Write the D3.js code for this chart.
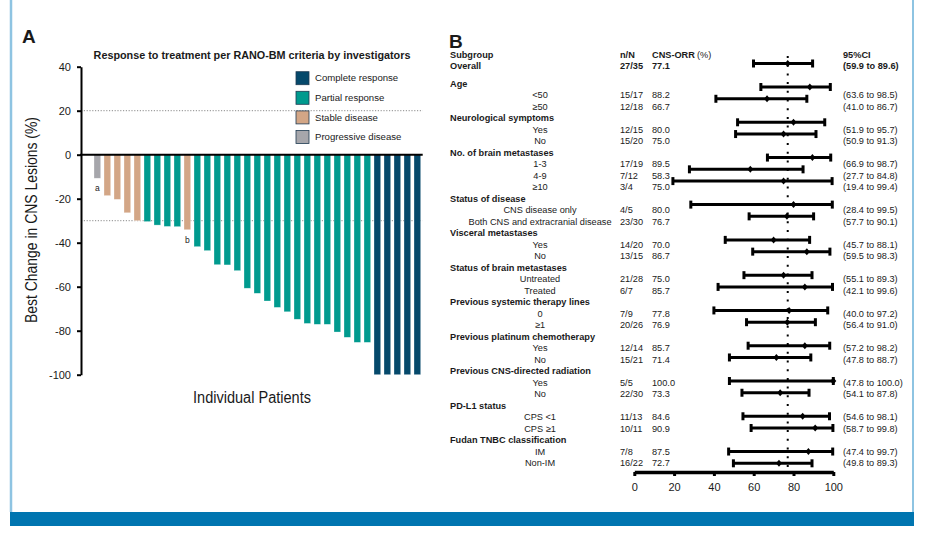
<!DOCTYPE html>
<html>
<head>
<meta charset="utf-8">
<script src="https://cdn.jsdelivr.net/npm/d3@7"></script>
<style>
  body { margin: 0; background: #fff; }
  text { font-family: "Liberation Sans", Arial, sans-serif; fill: #1a1a1a; }
</style>
</head>
<body>
<script>
// ---- panel A data: best change per patient (%) and response type
var patientChange = [-10.7, -18.6, -20.3, -26.4, -30.0, -30.4, -32.0, -32.6, -32.7, -34.1,
  -41.8, -43.6, -50.0, -50.1, -52.7, -60.7, -63.0, -66.5, -69.4, -71.4,
  -74.8, -76.7, -77.1, -77.1, -80.6, -83.0, -85.3, -85.3,
  -100, -100, -100, -100, -100];
var patientResponse = ["PD", "SD", "SD", "SD", "SD", "PR", "PR", "PR", "PR", "SD",
  "PR", "PR", "PR", "PR", "PR", "PR", "PR", "PR", "PR", "PR",
  "PR", "PR", "PR", "PR", "PR", "PR", "PR", "PR",
  "CR", "CR", "CR", "CR", "CR"];
var patientNotes = {0: "a", 9: "b"};
var responseKeys = ["CR", "PR", "SD", "PD"];
var responseNames = ["Complete response", "Partial response", "Stable disease", "Progressive disease"];
var responseColors = ["#05496b", "#009a8e", "#d3a686", "#a6a6ab"];
var yTicksA = [40, 20, 0, -20, -40, -60, -80, -100];

// ---- panel B data: subgroups
var overallN = "27/35", overallOrr = 77.1, overallLow = 59.9, overallHigh = 89.6;
var fpLabels = ["Age", "<50", "\u226550", "Neurological symptoms", "Yes", "No",
  "No. of brain metastases", "1-3", "4-9", "\u226510",
  "Status of disease", "CNS disease only", "Both CNS and extracranial disease",
  "Visceral metastases", "Yes", "No",
  "Status of brain metastases", "Untreated", "Treated",
  "Previous systemic therapy lines", "0", "\u22651",
  "Previous platinum chemotherapy", "Yes", "No",
  "Previous CNS-directed radiation", "Yes", "No",
  "PD-L1 status", "CPS <1", "CPS \u22651",
  "Fudan TNBC classification", "IM", "Non-IM"];
var fpN = [null, "15/17", "12/18", null, "12/15", "15/20", null, "17/19", "7/12", "3/4",
  null, "4/5", "23/30", null, "14/20", "13/15", null, "21/28", "6/7",
  null, "7/9", "20/26", null, "12/14", "15/21", null, "5/5", "22/30",
  null, "11/13", "10/11", null, "7/8", "16/22"];
var fpOrr = [null, 88.2, 66.7, null, 80.0, 75.0, null, 89.5, 58.3, 75.0,
  null, 80.0, 76.7, null, 70.0, 86.7, null, 75.0, 85.7,
  null, 77.8, 76.9, null, 85.7, 71.4, null, 100.0, 73.3,
  null, 84.6, 90.9, null, 87.5, 72.7];
var fpLow = [null, 63.6, 41.0, null, 51.9, 50.9, null, 66.9, 27.7, 19.4,
  null, 28.4, 57.7, null, 45.7, 59.5, null, 55.1, 42.1,
  null, 40.0, 56.4, null, 57.2, 47.8, null, 47.8, 54.1,
  null, 54.6, 58.7, null, 47.4, 49.8];
var fpHigh = [null, 98.5, 86.7, null, 95.7, 91.3, null, 98.7, 84.8, 99.4,
  null, 99.5, 90.1, null, 88.1, 98.3, null, 89.3, 99.6,
  null, 97.2, 91.0, null, 98.2, 88.7, null, 100.0, 87.8,
  null, 98.1, 99.8, null, 99.7, 89.3];
var xTicksB = [0, 20, 40, 60, 80, 100];

var svg = d3.select("body").append("svg").attr("width", 931).attr("height", 533);

// frame
svg.append("line").attr("x1", 11).attr("x2", 11).attr("y1", 0).attr("y2", 512)
  .attr("stroke", "#8ec4e2").attr("stroke-width", 2.5);
svg.append("line").attr("x1", 913).attr("x2", 913).attr("y1", 0).attr("y2", 512)
  .attr("stroke", "#8ec4e2").attr("stroke-width", 2);
svg.append("rect").attr("x", 10).attr("y", 512).attr("width", 904).attr("height", 14)
  .attr("fill", "#0075b0");

// =========== panel A ===========
var yA = d3.scaleLinear().domain([-100, 40]).range([374.7, 66.7]);
var xA = d3.scaleBand().domain(d3.range(patientChange.length)).range([94, 420.7]).paddingInner(0.33);
var colorA = d3.scaleOrdinal().domain(responseKeys).range(responseColors);

svg.append("text").attr("x", 22).attr("y", 43).attr("font-size", 19).attr("font-weight", "bold").text("A");
svg.append("text").attr("x", 252).attr("y", 58.8).attr("text-anchor", "middle")
  .attr("font-size", 10.8).attr("font-weight", "bold")
  .text("Response to treatment per RANO-BM criteria by investigators");

// reference lines
[20, -30].forEach(function(v) {
  svg.append("line").attr("x1", 81).attr("x2", 422.7).attr("y1", yA(v)).attr("y2", yA(v))
    .attr("stroke", "#8a8a8a").attr("stroke-width", 1).attr("stroke-dasharray", "1.2,1.6");
});

// bars
svg.append("g").selectAll("rect")
  .data(patientChange)
  .enter()
  .append("rect")
  .attr("x", function(d, i) { return xA(i); })
  .attr("y", yA(0))
  .attr("width", xA.bandwidth())
  .attr("height", function(d) { return yA(d) - yA(0); })
  .attr("fill", function(d, i) { return colorA(patientResponse[i]); })
  .attr("stroke", "#ffffff").attr("stroke-opacity", 0.5).attr("stroke-width", 0.6);

// notes a / b
Object.keys(patientNotes).forEach(function(k) {
  var i = +k;
  svg.append("text").attr("x", xA(i) + xA.bandwidth() / 2).attr("y", yA(patientChange[i]) + 13)
    .attr("text-anchor", "middle").attr("font-size", 8.5).attr("fill", "#333").text(patientNotes[k]);
});

// y axis
var axA = svg.append("g").attr("transform", "translate(81,0)")
  .call(d3.axisLeft(yA).tickValues(yTicksA).tickSize(4).tickSizeOuter(0).tickPadding(6)
    .tickFormat(function(d) { return String(d).replace("\u2212", "-"); }));
axA.select(".domain").attr("stroke", "#000").attr("stroke-width", 2);
axA.selectAll(".tick line").attr("stroke", "#000").attr("stroke-width", 2);
axA.selectAll(".tick text").attr("font-size", 11).attr("font-family", "Liberation Sans, Arial, sans-serif").attr("fill", "#1a1a1a");

// zero line
svg.append("line").attr("x1", 80).attr("x2", 422.7).attr("y1", yA(0)).attr("y2", yA(0))
  .attr("stroke", "#000").attr("stroke-width", 2);

// axis titles (condensed look)
svg.append("text")
  .attr("transform", "translate(37,220) rotate(-90)")
  .attr("text-anchor", "middle").attr("font-size", 16)
  .attr("textLength", 206).attr("lengthAdjust", "spacingAndGlyphs")
  .text("Best Change in CNS Lesions (%)");
svg.append("text").attr("x", 252).attr("y", 403)
  .attr("text-anchor", "middle").attr("font-size", 16)
  .attr("textLength", 118).attr("lengthAdjust", "spacingAndGlyphs")
  .text("Individual Patients");

// legend
var legA = svg.append("g").selectAll("g")
  .data(responseNames)
  .enter()
  .append("g")
  .attr("transform", function(d, i) { return "translate(296," + (71.7 + i * 19.6) + ")"; });
legA.append("rect").attr("width", 13).attr("height", 13)
  .attr("fill", function(d, i) { return responseColors[i]; })
  .attr("stroke", "#1f3b52").attr("stroke-width", 0.8);
legA.append("text").attr("x", 19).attr("y", 9.8).attr("font-size", 9.6).attr("fill", "#333")
  .text(function(d) { return d; });

// =========== panel B ===========
var xB = d3.scaleLinear().domain([0, 100]).range([634.3, 833.3]);
var yText = d3.scaleLinear().domain([0, 33]).range([83.7, 462.7]);
var yBar = d3.scaleLinear().domain([0, 34]).range([63.5, 463.3]);
var fs = 9.2, base = 3.3;

svg.append("text").attr("x", 449).attr("y", 48).attr("font-size", 19).attr("font-weight", "bold").text("B");

function headerText(x, y, t, bold, color) {
  svg.append("text").attr("x", x).attr("y", y + base).attr("font-size", fs)
    .attr("font-weight", bold ? "bold" : "normal").attr("fill", color || "#1a1a1a").text(t);
}
headerText(450, 54.7, "Subgroup", true);
headerText(620, 54.7, "n/N", true);
headerText(652, 54.7, "CNS-ORR", true);
headerText(697, 54.7, "(%)", false, "#666");
headerText(843, 54.7, "95%CI", true);
headerText(450, 65.3, "Overall", true);
headerText(620, 65.3, overallN, true);
headerText(652, 65.3, overallOrr.toFixed(1), true);
headerText(843, 65.3, "(" + overallLow.toFixed(1) + " to " + overallHigh.toFixed(1) + ")", true);

// row texts
var rows = svg.append("g").selectAll("g")
  .data(fpLabels)
  .enter()
  .append("g")
  .attr("transform", function(d, i) { return "translate(0," + (yText(i) + base) + ")"; });
rows.append("text")
  .attr("x", function(d, i) { return fpN[i] ? 540 : 450; })
  .attr("text-anchor", function(d, i) { return fpN[i] ? "middle" : "start"; })
  .attr("font-size", fs)
  .attr("font-weight", function(d, i) { return fpN[i] ? "normal" : "bold"; })
  .text(function(d) { return d; });
rows.append("text").attr("x", 620).attr("font-size", fs)
  .text(function(d, i) { return fpN[i] || ""; });
rows.append("text").attr("x", 652).attr("font-size", fs)
  .text(function(d, i) { return fpOrr[i] == null ? "" : fpOrr[i].toFixed(1); });
rows.append("text").attr("x", 843).attr("font-size", fs)
  .text(function(d, i) { return fpOrr[i] == null ? "" : "(" + fpLow[i].toFixed(1) + " to " + fpHigh[i].toFixed(1) + ")"; });

// reference dotted line at overall ORR
svg.append("line").attr("x1", xB(overallOrr)).attr("x2", xB(overallOrr)).attr("y1", 56).attr("y2", 467)
  .attr("stroke", "#000").attr("stroke-width", 2).attr("stroke-dasharray", "2,6.7");

// CI bars
var ciData = [{orr: overallOrr, lo: overallLow, hi: overallHigh, k: 0}];
fpOrr.forEach(function(v, i) {
  if (v != null) ciData.push({orr: v, lo: fpLow[i], hi: fpHigh[i], k: i + 1});
});
var ci = svg.append("g").selectAll("g").data(ciData).enter().append("g");
ci.append("line")
  .attr("x1", function(d) { return xB(d.lo); })
  .attr("x2", function(d) { return xB(d.hi); })
  .attr("y1", function(d) { return yBar(d.k); })
  .attr("y2", function(d) { return yBar(d.k); })
  .attr("stroke", "#000").attr("stroke-width", 3);
["lo", "hi"].forEach(function(key) {
  ci.append("line")
    .attr("x1", function(d) { return xB(d[key]); })
    .attr("x2", function(d) { return xB(d[key]); })
    .attr("y1", function(d) { return yBar(d.k) - 4; })
    .attr("y2", function(d) { return yBar(d.k) + 4; })
    .attr("stroke", "#000").attr("stroke-width", 3);
});
ci.append("path")
  .attr("d", function(d) {
    var x = xB(d.orr), y = yBar(d.k);
    return "M" + (x - 3) + "," + y + "L" + x + "," + (y - 3.5) + "L" + (x + 3) + "," + y + "L" + x + "," + (y + 3.5) + "Z";
  })
  .attr("fill", "#000");

// x axis B
var axB = svg.append("g").attr("transform", "translate(0,472)")
  .call(d3.axisBottom(xB).tickValues(xTicksB).tickSize(4).tickSizeOuter(0).tickPadding(7));
axB.select(".domain").attr("stroke", "#000").attr("stroke-width", 3.5);
axB.selectAll(".tick line").attr("stroke", "#000").attr("stroke-width", 3);
axB.selectAll(".tick text").attr("font-size", 11).attr("font-family", "Liberation Sans, Arial, sans-serif").attr("fill", "#1a1a1a");
</script>
</body>
</html>
